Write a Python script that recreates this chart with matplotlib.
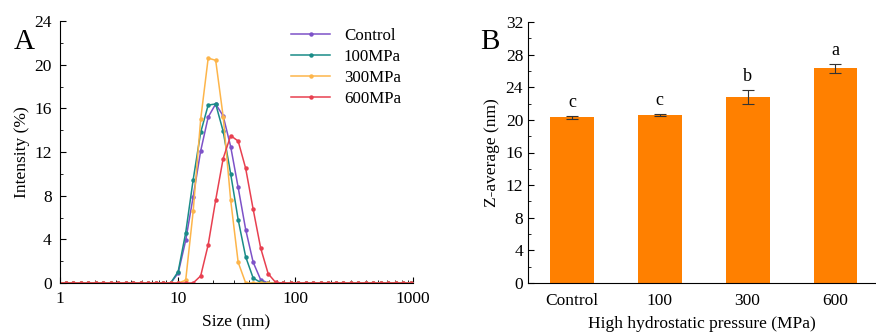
import numpy as np
import matplotlib.pyplot as plt
from matplotlib.ticker import MultipleLocator, LogLocator, NullFormatter

plt.rcParams['font.family'] = ['Liberation Serif', 'DejaVu Serif']
plt.rcParams['font.size'] = 12.5

# DLS size bins (nm)
sizes = [0.9649, 1.117, 1.294, 1.499, 1.736, 2.010, 2.328, 2.696, 3.122, 3.615,
         4.187, 4.849, 5.615, 6.503, 7.531, 8.721, 10.10, 11.70, 13.54, 15.69,
         18.17, 21.04, 24.36, 28.21, 32.67, 37.84, 43.82, 50.75, 58.77, 68.06,
         78.82, 91.28, 105.7, 122.4, 141.8, 164.2, 190.1, 220.2, 255.0, 295.3,
         342.0, 396.1, 458.7, 531.2, 615.1, 712.4, 825.0, 955.4, 1106]
# intensity (%) from 8.721 nm onwards, zeros elsewhere
control_pk = [0, 0.9, 3.9, 7.9, 12.1, 15.2, 16.4, 15.3, 12.5, 8.75, 4.9, 1.9, 0.3, 0]
mpa100_pk = [0, 1.05, 4.6, 9.45, 13.8, 16.3, 16.4, 13.9, 10.0, 5.8, 2.4, 0.45, 0.05, 0]
mpa300_pk = [0, 0, 0.25, 6.55, 15.0, 20.6, 20.4, 15.25, 7.6, 1.9, 0, 0, 0, 0]
mpa600_pk = [0, 0, 0, 0, 0.65, 3.5, 7.6, 11.4, 13.5, 13.0, 10.5, 6.75, 3.2, 0.85, 0.05, 0]

def full(pk):
    y = [0.0] * len(sizes)
    start = sizes.index(8.721)
    for i, v in enumerate(pk):
        y[start + i] = v
    return y

series = [('Control', control_pk, '#7d52c8'),
          ('100MPa', mpa100_pk, '#1a8c88'),
          ('300MPa', mpa300_pk, '#fdb54a'),
          ('600MPa', mpa600_pk, '#e84050')]

groups = ['Control', '100', '300', '600']
zavg = [20.3, 20.6, 22.8, 26.3]
zerr = [0.22, 0.12, 0.9, 0.55]
letters = ['c', 'c', 'b', 'a']

fig = plt.figure(figsize=(8.76, 3.33), dpi=100)

# panel A
ax1 = fig.add_axes([60/876, 1-283/333, (413-60)/876, (283-21)/333])
for name, pk, c in series:
    ax1.plot(sizes, full(pk), color=c, lw=1.1, marker='o', ms=2.2, label=name)
ax1.set_xscale('log')
ax1.set_xlim(1, 1000)
ax1.set_ylim(0, 24)
ax1.yaxis.set_major_locator(MultipleLocator(4))
ax1.yaxis.set_minor_locator(MultipleLocator(2))
ax1.xaxis.set_major_locator(LogLocator(base=10))
ax1.xaxis.set_minor_locator(LogLocator(base=10, subs=np.arange(2, 10)))
ax1.xaxis.set_minor_formatter(NullFormatter())
ax1.set_xticks([1, 10, 100, 1000])
ax1.set_xticklabels(['1', '10', '100', '1000'])
ax1.tick_params(which='both', direction='in')
ax1.tick_params(which='major', length=4, pad=6)
ax1.tick_params(which='minor', length=2.5)
ax1.spines['top'].set_visible(False)
ax1.spines['right'].set_visible(False)
ax1.set_xlabel('Size (nm)', labelpad=5)
ax1.set_ylabel('Intensity (%)', labelpad=3)
ax1.legend(loc='upper right', frameon=False, handlelength=2.3, borderaxespad=0.3,
           labelspacing=0.3, bbox_to_anchor=(1.0, 1.02), fontsize=12.2)
fig.text(14/876, 1-42/333, 'A', fontsize=21, va='center')

# panel B
ax2 = fig.add_axes([528/876, 1-283/333, (875-528)/876, (283-22)/333])
x = np.arange(len(groups))
ax2.bar(x, zavg, width=0.5, color='#ff8000', yerr=zerr, capsize=4,
        error_kw=dict(elinewidth=0.8, capthick=0.8, ecolor='#333333'))
for xi, v, e, t in zip(x, zavg, zerr, letters):
    ax2.text(xi, v + e + 0.6, t, ha='center', va='bottom', fontsize=13)
ax2.set_xlim(-0.5, 3.45)
ax2.set_ylim(0, 32)
ax2.set_xticks(x)
ax2.set_xticklabels(groups)
ax2.yaxis.set_major_locator(MultipleLocator(4))
ax2.yaxis.set_minor_locator(MultipleLocator(2))
ax2.tick_params(axis='y', which='both', direction='in')
ax2.tick_params(axis='y', which='major', length=4)
ax2.tick_params(axis='y', which='minor', length=2.5)
ax2.tick_params(axis='x', length=0, pad=7)
ax2.spines['top'].set_visible(False)
ax2.spines['right'].set_visible(False)
ax2.set_xlabel('High hydrostatic pressure (MPa)', labelpad=5)
ax2.set_ylabel('Z-average (nm)', labelpad=4)
fig.text(480/876, 1-42/333, 'B', fontsize=21, va='center')

fig.savefig('out.png', dpi=100)
